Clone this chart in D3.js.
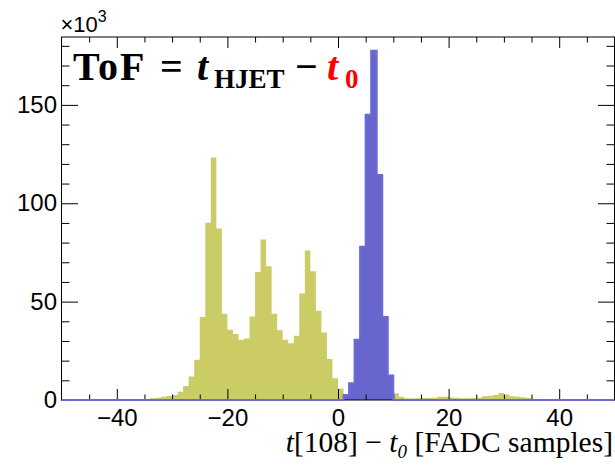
<!DOCTYPE html>
<html>
<head>
<meta charset="utf-8">
<script src="https://cdn.jsdelivr.net/npm/d3@7"></script>
<style>
  html, body { margin: 0; padding: 0; background: #fff; }
  svg { display: block; }
</style>
</head>
<body>
<svg id="chart" width="615" height="465"></svg>
<script>
// Time-of-flight histograms, counts in units of 10^3 per 1-sample bin.
// Bin values are keyed by the bin's lower edge.

// Recoil (yellow) distribution: bins -35 .. 34
const yellowStart = -35;
const yellowCounts = [
  0.4, 0.9, 1.2, 1.7, 2.0, 2.5, 4.2, 7.1, 11.9, 20.4,      // -35 .. -26
  42.2, 90.1, 123.3, 87.2, 43.9, 35.7, 33.5, 30.6, 31.3, 42.5, // -25 .. -16
  65.1, 81.6, 68.0, 43.9, 35.4, 30.6, 28.9, 32.7, 54.1, 76.0, // -15 .. -6
  65.5, 45.4, 34.3, 20.9, 11.1, 5.8,                        // -5 .. 0
  2.0, 2.0, 2.0, 2.0, 2.0, 2.0, 2.0, 2.5, 3.0,              // 1 .. 9
  3.4, 1.7, 0.9, 0.8, 0.9, 1.0, 1.0, 1.2, 1.6, 1.7,         // 10 .. 19
  1.3, 1.1, 0.9, 0.9, 1.0, 1.2, 1.9, 2.1, 2.5, 3.6,         // 20 .. 29
  2.8, 1.9, 1.7, 1.4, 1.0                                   // 30 .. 34
];

// Reference-time (blue) distribution: bins 1 .. 9
const blueStart = 1;
const blueCounts = [2.5, 8.5, 30.6, 77.9, 145.0, 177.5, 114.4, 42.2, 12.5];

// Axis setup
const xDomain = [-50, 50];
const yDomain = [0, 184.5];
const xMajorTicks = [-40, -20, 0, 20, 40];
const yMajorTicks = [0, 50, 100, 150];

const svg = d3.select("#chart");
const L = 61.5, R = 614.5, T = 37, B = 400;

const x = d3.scaleLinear().domain(xDomain).range([L, R]);
const y = d3.scaleLinear().domain(yDomain).range([B, T]);

// Expand a list of counts into step vertices covering the whole x range
function binsFrom(start, counts) {
  const out = [];
  for (let e = xDomain[0]; e < xDomain[1]; e++) {
    const i = e - start;
    out.push({ e, v: (i >= 0 && i < counts.length) ? counts[i] : 0 });
  }
  out.push({ e: xDomain[1], v: 0 });
  return out;
}
const yellowBins = binsFrom(yellowStart, yellowCounts);
const blueBins = binsFrom(blueStart, blueCounts);

const area = d3.area()
  .curve(d3.curveStepAfter)
  .x(d => x(d.e))
  .y0(y(0))
  .y1(d => y(d.v));

const line = d3.line()
  .curve(d3.curveStepAfter)
  .x(d => x(d.e))
  .y(d => y(d.v));

const YELLOW = "#cccc66";
const BLUE = "#6666cc";

svg.append("path").datum(yellowBins)
  .attr("d", area).attr("fill", YELLOW);

svg.append("path").datum(blueBins)
  .attr("d", area).attr("fill", BLUE);

// Frame
svg.append("rect")
  .attr("x", L).attr("y", T)
  .attr("width", R - L).attr("height", B - T)
  .attr("fill", "none").attr("stroke", "#000").attr("stroke-width", 1);

const xMinor = d3.range(-45, 50, 5).filter(v => !xMajorTicks.includes(v));
const yMinor = d3.range(10, 181, 10).filter(v => !yMajorTicks.includes(v));

const axisFont = "'Liberation Sans', Arial, Helvetica, sans-serif";

function styleAxis(g) {
  g.select(".domain").remove();
  g.selectAll(".tick line").attr("stroke", "#000").attr("stroke-width", 1);
  g.selectAll(".tick text")
    .attr("fill", "#000")
    .style("font-family", axisFont)
    .style("font-size", "24px");
}

// Bottom axis with labels
svg.append("g").attr("transform", `translate(0,${B})`)
  .call(d3.axisBottom(x).tickValues(xMajorTicks).tickSize(-11).tickPadding(9)
        .tickFormat(d3.format("d")))
  .call(styleAxis);
svg.append("g").attr("transform", `translate(0,${B})`)
  .call(d3.axisBottom(x).tickValues(xMinor).tickSize(-5.5).tickFormat(""))
  .call(styleAxis);
// Top axis (ticks only)
svg.append("g").attr("transform", `translate(0,${T})`)
  .call(d3.axisTop(x).tickValues(xMajorTicks).tickSize(-11).tickFormat(""))
  .call(styleAxis);
svg.append("g").attr("transform", `translate(0,${T})`)
  .call(d3.axisTop(x).tickValues(xMinor).tickSize(-5.5).tickFormat(""))
  .call(styleAxis);
// Left axis with labels
svg.append("g").attr("transform", `translate(${L},0)`)
  .call(d3.axisLeft(y).tickValues(yMajorTicks).tickSize(-16.5).tickPadding(4.5)
        .tickFormat(d3.format("d")))
  .call(styleAxis);
svg.append("g").attr("transform", `translate(${L},0)`)
  .call(d3.axisLeft(y).tickValues(yMinor).tickSize(-8).tickFormat(""))
  .call(styleAxis);
// Right axis (ticks only)
svg.append("g").attr("transform", `translate(${R},0)`)
  .call(d3.axisRight(y).tickValues(yMajorTicks).tickSize(-16.5).tickFormat(""))
  .call(styleAxis);
svg.append("g").attr("transform", `translate(${R},0)`)
  .call(d3.axisRight(y).tickValues(yMinor).tickSize(-8).tickFormat(""))
  .call(styleAxis);

// Blue histogram outline (runs along zero where the bins are empty)
svg.append("path").datum(blueBins)
  .attr("d", line).attr("fill", "none")
  .attr("stroke", "#6a6ad8").attr("stroke-width", 2);

// Exponent label for the y axis
const expo = svg.append("text")
  .attr("x", L - 1).attr("y", 32)
  .style("font-family", axisFont).style("font-size", "22px").attr("fill", "#000");
expo.append("tspan").text("×10");
expo.append("tspan").attr("dy", -10).style("font-size", "16px").text("3");

// X axis title
const serif = "'Liberation Serif', 'Times New Roman', Times, serif";
const xt = svg.append("text")
  .attr("x", 613).attr("y", 452).attr("text-anchor", "end")
  .style("font-family", serif).style("font-size", "29.5px").attr("fill", "#000");
xt.append("tspan").style("font-style", "italic").text("t");
xt.append("tspan").text("[108] − ");
xt.append("tspan").style("font-style", "italic").text("t");
xt.append("tspan").style("font-style", "italic").style("font-size", "19px").attr("dy", 6).text("0");
xt.append("tspan").attr("dy", -6).text(" [FADC samples]");

// Formula annotation
const f = svg.append("text")
  .style("font-family", serif).style("font-weight", "bold").attr("fill", "#000");
f.append("tspan").attr("x", 73).attr("y", 80).style("font-size", "40px").style("letter-spacing", "2px").text("ToF");
f.append("tspan").attr("x", 160).attr("y", 80).style("font-size", "40px").text("=");
f.append("tspan").attr("x", 197).attr("y", 80).style("font-size", "40px").style("font-style", "italic").text("t");
f.append("tspan").attr("x", 214).attr("y", 88).style("font-size", "27px").text("HJET");
f.append("tspan").attr("x", 295).attr("y", 80).style("font-size", "40px").text("−");
f.append("tspan").attr("x", 327).attr("y", 80).style("font-size", "40px").style("font-style", "italic").attr("fill", "#ff0000").text("t");
f.append("tspan").attr("x", 345).attr("y", 88).style("font-size", "27px").attr("fill", "#ff0000").text("0");
</script>
</body>
</html>
